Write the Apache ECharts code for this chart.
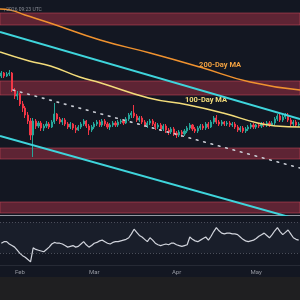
<!DOCTYPE html>
<html><head><meta charset="utf-8">
<script src="https://cdn.jsdelivr.net/npm/echarts@6/dist/echarts.min.js"></script>
<style>html,body{margin:0;padding:0;background:#1f1f21;width:300px;height:300px;overflow:hidden}
#c{width:300px;height:277px;background:#131722}</style></head>
<body><div id="c"></div>
<script>
// ---- data ----
const startDate = [2026, 0, 25];
const dayCount = 113;
const monthTicks = {'2026-02-01':'Feb','2026-03-01':'Mar','2026-04-01':'Apr','2026-05-01':'May'};
const headerText = ', 2026 09:23 UTC';

const opens = [354,357,354,356,357,340,334,336,326,322,315,309,295,309,304,307,302,304,306,303,308,316,311,308,310,306,303,306,302,300,303,306,309,304,300,303,306,308,305,309,306,303,305,307,305,308,309,307,311,315,317,314,310,312,308,305,307,309,306,303,305,301,304,300,298,301,297,295,298,296,299,302,305,301,299,302,304,302,306,303,308,312,308,306,308,306,307,305,306,303,300,302,299,301,303,305,303,305,304,306,305,307,305,307,311,314,310,313,315,310,306,308,305];
const closes = [357,354,356,357,340,334,336,326,322,315,309,295,309,304,307,302,304,306,303,308,316,311,308,310,306,303,306,302,300,303,306,309,304,300,303,306,308,305,309,306,303,305,307,305,308,309,307,311,315,317,314,310,312,308,305,307,309,306,303,305,301,304,300,298,301,297,295,298,296,299,302,305,301,299,302,304,302,306,303,308,312,308,306,308,306,307,305,306,303,300,302,299,301,303,305,303,305,304,306,305,307,305,307,311,314,310,313,315,310,306,308,305,306];
const lows = [352,352,353,354,338,331,330,324,318,312,306,290,273,301,302,299,299,302,301,302,306,309,306,305,304,301,301,300,297,299,301,304,302,295,298,301,304,303,303,304,301,300,303,303,303,306,305,306,309,312,312,308,308,306,303,302,305,304,300,301,299,299,297,295,296,294,292,293,293,294,297,300,299,297,297,300,300,300,301,302,306,306,304,304,304,304,303,303,301,298,298,297,297,299,301,301,301,302,302,303,303,303,304,305,309,308,308,311,308,304,304,303,303];
const highs = [359,358,358,360,358,342,339,337,329,324,318,312,312,311,309,309,306,309,308,310,327,317,313,312,312,308,308,307,305,305,308,311,310,306,305,308,310,310,311,311,308,307,309,309,310,311,311,313,317,319,325,316,314,314,310,309,311,311,308,307,307,306,306,302,303,303,299,300,300,301,304,307,306,303,304,306,306,308,308,310,314,315,310,310,309,309,309,308,308,305,304,304,303,305,307,307,306,307,308,308,309,309,309,313,316,316,315,317,317,312,310,310,308];
const rsi = [43,45,45,42,40,38,34,30,27,25,22,19,37,35,34,33,32,35,38,42,44,43,43,42,40,38,39,40,38,39,42,45,41,38,40,43,44,46,47,45,43,42,44,45,45,46,47,48,50,55,61,57,53,51,48,45,50,47,43,41,40,41,42,41,43,43,41,40,39,40,41,51,48,46,45,47,49,51,47,52,58,63,59,56,55,56,56,55,55,54,51,48,46,45,46,47,49,52,54,56,53,50,54,59,63,58,54,57,60,55,50,48,47];

const ma200Days = [0, 3.8, 9.4, 18.8, 37.7, 56.5, 75.3, 94.2, 113];
const ma200Vals = [421, 420, 415, 407, 390, 377, 363, 348, 340];
const ma100Days = [0, 11, 19, 30, 38, 56, 71, 84, 97, 104, 113];
const ma100Vals = [378, 369, 364, 353, 347, 332, 325, 317, 307, 304, 303];

const upperChannel = [[0, 398], [113, 311]];
const lowerChannel = [[0, 294], [113, 210]];
const dottedTrend = [[4.9, 340], [113, 262]];
const zones = [[405, 417], [335, 349], [271, 282], [217, 228]];
const rsiLevels = [70, 30];
const ma200Label = {text: '200-Day MA', day: 82.9, price: 365};
const ma100Label = {text: '100-Day MA', day: 77.6, price: 330};

// ---- build ----
const categories = [];
for (let i = 0; i < dayCount; i++) {
  const d = new Date(Date.UTC(startDate[0], startDate[1], startDate[2] + i));
  categories.push(d.toISOString().slice(0, 10));
}
const candles = opens.map((o, i) => [o, closes[i], lows[i], highs[i]]);
const zip = (a, b) => a.map((x, i) => [x, b[i]]);
const labelFont = {fontSize: 7.5, fontWeight: 'bold', fontFamily: 'Roboto'};

const chart = echarts.init(document.getElementById('c'), null, {renderer: 'canvas'});
chart.setOption({
  backgroundColor: '#131722',
  animation: false,
  title: {text: headerText, left: -1, top: 2, textStyle: {fontSize: 5, color: '#8b8e97', fontWeight: 'normal', fontFamily: 'Roboto'}},
  grid: [
    {left: 0, right: 0, top: 0, height: 215},
    {left: 0, right: 0, top: 216, height: 49}
  ],
  xAxis: [
    {type: 'category', gridIndex: 0, data: categories, axisLine: {show: true, lineStyle: {color: '#9598a1', width: 1}}, axisTick: {show: false}, axisLabel: {show: false}, splitLine: {show: false}},
    {type: 'value', gridIndex: 0, min: 0, max: 113, show: false},
    {type: 'category', gridIndex: 1, data: categories, axisLine: {show: true, lineStyle: {color: '#262a35'}}, axisTick: {show: false},
      axisLabel: {interval: (idx, v) => !!monthTicks[v], formatter: v => monthTicks[v] || '', color: '#9598a1', fontSize: 6, margin: 4, fontFamily: 'Roboto'}, splitLine: {show: false}}
  ],
  yAxis: [
    {type: 'value', gridIndex: 0, min: 215, max: 430, show: false},
    {type: 'value', gridIndex: 1, min: 15, max: 78, show: false}
  ],
  series: [
    {type: 'line', xAxisIndex: 1, yAxisIndex: 0, data: [], silent: true, z: 1,
      markArea: {silent: true, itemStyle: {color: 'rgba(170,50,70,0.5)', borderColor: 'rgba(200,70,90,0.55)', borderWidth: 1},
        data: zones.map(z => [{yAxis: z[0]}, {yAxis: z[1]}])}},
    {type: 'candlestick', xAxisIndex: 0, yAxisIndex: 0, data: candles, barWidth: 1.6, z: 3,
      itemStyle: {color: '#26a69a', color0: '#f23645', borderColor: '#26a69a', borderColor0: '#f23645', borderWidth: 1}},
    {type: 'line', xAxisIndex: 1, yAxisIndex: 0, data: zip(ma200Days, ma200Vals), smooth: true, symbol: 'none', z: 4,
      lineStyle: {color: '#f0922f', width: 1.5},
      markPoint: {symbol: 'circle', symbolSize: 0, data: [{coord: [ma200Label.day, ma200Label.price], label: Object.assign({show: true, formatter: ma200Label.text, color: '#f0a040'}, labelFont)}]}},
    {type: 'line', xAxisIndex: 1, yAxisIndex: 0, data: zip(ma100Days, ma100Vals), smooth: true, symbol: 'none', z: 4,
      lineStyle: {color: '#f3dc7a', width: 1.5},
      markPoint: {symbol: 'circle', symbolSize: 0, data: [{coord: [ma100Label.day, ma100Label.price], label: Object.assign({show: true, formatter: ma100Label.text, color: '#f3dc7a'}, labelFont)}]}},
    {type: 'line', xAxisIndex: 1, yAxisIndex: 0, data: upperChannel, symbol: 'none', z: 5, lineStyle: {color: '#3fd5dc', width: 2}},
    {type: 'line', xAxisIndex: 1, yAxisIndex: 0, data: lowerChannel, symbol: 'none', z: 5, lineStyle: {color: '#3fd5dc', width: 2}},
    {type: 'line', xAxisIndex: 1, yAxisIndex: 0, data: dottedTrend, symbol: 'none', z: 5, lineStyle: {color: '#c9ccd4', width: 1.6, type: [1.6, 6], cap: 'round'}},
    {type: 'line', xAxisIndex: 2, yAxisIndex: 1, data: rsi, symbol: 'none', z: 5, lineStyle: {color: '#d1d4dc', width: 1.2},
      markArea: {silent: true, itemStyle: {color: 'rgba(120,125,150,0.07)'}, data: [[{yAxis: rsiLevels[0]}, {yAxis: rsiLevels[1]}]]},
      markLine: {silent: true, symbol: 'none', label: {show: false}, lineStyle: {color: '#4a4e5a', type: [1, 2], width: 1},
        data: rsiLevels.map(v => ({yAxis: v}))}}
  ]
});
</script></body></html>
